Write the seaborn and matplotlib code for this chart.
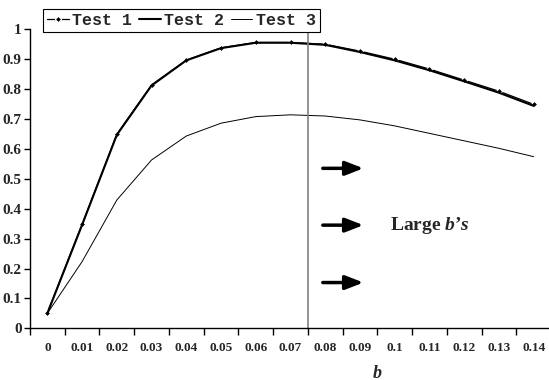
import matplotlib
matplotlib.use("Agg")
import matplotlib.pyplot as plt
import seaborn as sns
import pandas as pd
import numpy as np

categories = ["0", "0.01", "0.02", "0.03", "0.04", "0.05", "0.06", "0.07",
              "0.08", "0.09", "0.1", "0.11", "0.12", "0.13", "0.14"]
test1 = [0.052, 0.348, 0.649, 0.814, 0.897, 0.938, 0.956, 0.956,
         0.950, 0.927, 0.900, 0.867, 0.830, 0.793, 0.749]
test2 = [0.050, 0.346, 0.647, 0.812, 0.896, 0.937, 0.955, 0.955,
         0.948, 0.924, 0.896, 0.863, 0.826, 0.788, 0.744]
test3 = [0.050, 0.223, 0.429, 0.563, 0.643, 0.686, 0.708, 0.714,
         0.710, 0.697, 0.677, 0.652, 0.627, 0.602, 0.574]
series_names = ["Test 1", "Test 2", "Test 3"]
arrow_levels = [0.535, 0.345, 0.153]
annotation = "Large $b$\u2019$s$"
divider_between = ("0.07", "0.08")

sns.set_theme(style="white")
plt.rcParams["font.family"] = ["Liberation Serif", "DejaVu Serif"]
plt.rcParams["mathtext.fontset"] = "custom"
plt.rcParams["mathtext.it"] = "Liberation Serif:italic:bold"
plt.rcParams["mathtext.rm"] = "Liberation Serif:bold"
plt.rcParams["mathtext.bf"] = "Liberation Serif:italic:bold"

df = pd.DataFrame({"b": categories, "Test 1": test1, "Test 2": test2, "Test 3": test3})
pos = np.arange(len(categories))

fig = plt.figure(figsize=(5.49, 3.80), dpi=100)
ax = fig.add_axes([30/549, 1 - 328.3/380, 521/549, 299/380])

styles = {
    "Test 1": dict(lw=0.9, marker="D", markersize=3.2, color="black"),
    "Test 2": dict(lw=1.5, color="black"),
    "Test 3": dict(lw=0.7, color="black"),
}
for name in series_names:
    sns.lineplot(x=pos, y=df[name].values, ax=ax, label=name, **styles[name])

# divider line between 0.07 and 0.08
xdiv = (categories.index(divider_between[0]) + categories.index(divider_between[1])) / 2
ax.plot([xdiv, xdiv], [0, 1.0], color="#808080", lw=1.2, clip_on=False)

for lvl in arrow_levels:
    ax.annotate("", xy=(9.1, lvl), xytext=(7.93, lvl),
                arrowprops=dict(arrowstyle="-|>,head_length=0.9,head_width=0.35",
                                color="black", lw=2.5, shrinkA=0, shrinkB=0))
ax.text(9.87, arrow_levels[1], annotation, fontsize=14, fontweight="bold",
        va="center", ha="left")

ax.set_xlim(-0.5, len(categories) - 0.5)
ax.set_ylim(0, 1.0)
ax.set_yticks(np.arange(0, 1.01, 0.1))
ax.set_yticklabels(["0", "0.1", "0.2", "0.3", "0.4", "0.5", "0.6", "0.7", "0.8", "0.9", "1"],
                   fontsize=11, fontweight="bold")
ax.set_xticks(np.arange(-0.5, len(categories), 1.0))
ax.set_xticklabels([])
ax.set_xticks(pos, minor=True)
ax.set_xticklabels(categories, minor=True, fontsize=9.5, fontweight="bold")
ax.tick_params(axis="x", which="major", direction="out", length=5, width=1, color="black", bottom=True)
ax.tick_params(axis="x", which="minor", length=0, pad=10, bottom=True)
ax.tick_params(axis="y", direction="out", length=4, width=1, color="black", left=True, pad=2)

for s in ["top", "right"]:
    ax.spines[s].set_visible(False)
for s in ["left", "bottom"]:
    ax.spines[s].set_color("black")
    ax.spines[s].set_linewidth(1.0)

ax.set_xlabel("b", fontsize=13, fontweight="bold", fontstyle="italic")
ax.xaxis.label.set_va("center")
ax.xaxis.set_label_coords((377 - 30) / 521, -(373 - 328.3) / 299)
ax.set_ylabel("")

leg = ax.legend(loc="upper left", bbox_to_anchor=(43/549, 1 - 9/380),
                bbox_transform=fig.transFigure, ncol=3, frameon=True,
                fancybox=False, edgecolor="black", framealpha=1,
                prop={"family": "Liberation Mono", "weight": "bold", "size": 12},
                handlelength=1.3, handletextpad=0.2, columnspacing=0.4,
                borderpad=0.25, borderaxespad=0)
leg.get_frame().set_linewidth(0.8)

fig.savefig("out.png", dpi=100)
